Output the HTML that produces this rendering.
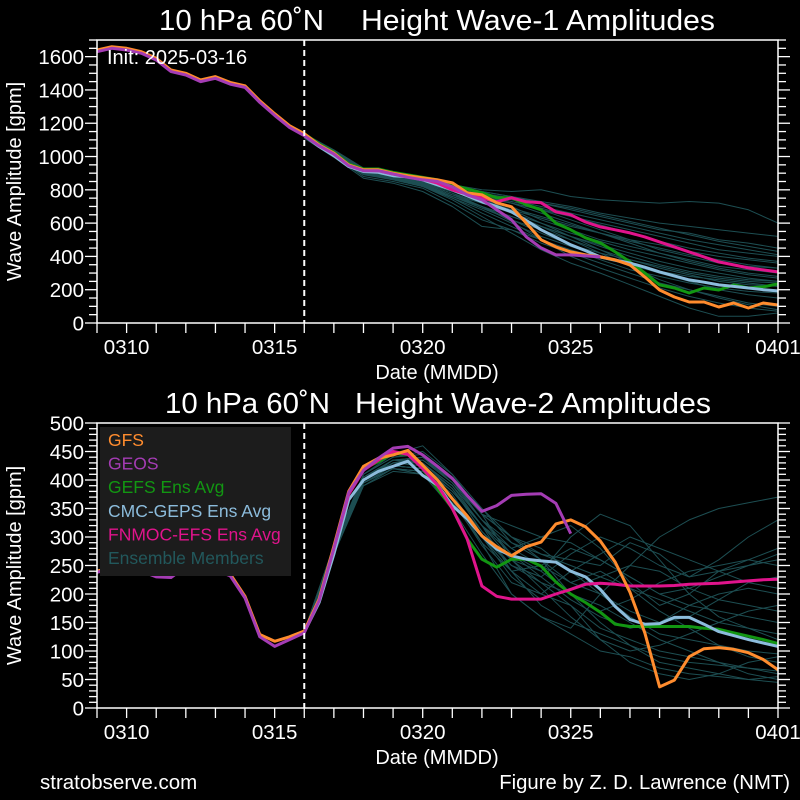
<!DOCTYPE html>
<html><head><meta charset="utf-8"><style>
html,body{margin:0;padding:0;background:#000;}
svg{display:block;font-family:"Liberation Sans",sans-serif;}
</style></head><body>
<svg id="fig" width="800" height="800" viewBox="0 0 800 800" xmlns="http://www.w3.org/2000/svg">
<rect width="800" height="800" fill="#000"/>
<g id="topPanel"></g>
<g id="botPanel"></g>
<text x="40" y="789" fill="#fff" font-size="20.5">stratobserve.com</text>
<text x="790" y="789" fill="#fff" font-size="20.3" text-anchor="end">Figure by Z. D. Lawrence (NMT)</text>
</svg>
<script>
// ---- data (day index 0 = 03/09, half-day steps for main series) ----
const xTickLabels = ["0310","0315","0320","0325","0401"];
const xTickDays = [1,6,11,16,23];
const initDay = 7;

const w1GFS = [1640,1660,1650,1630,1590,1520,1500,1460,1480,1445,1425,1335,1257,1185,1137,
 1070,1020,950,920,920,900,885,872,860,842,782,770,722,698,600,500,457,427,409,397,379,349,277,198,156,126,126,96,120,90,120,108];
const w1GEOS = [1630,1650,1640,1620,1580,1510,1490,1450,1470,1435,1415,1325,1247,1175,1125,
 1065,1015,945,915,915,895,875,860,850,818,770,740,680,620,517,451,409,409,403,397];
const w1GEFS = [1137,1075,1025,955,925,925,905,890,875,860,830,805,782,752,752,710,680,600,560,512,481,427,367,301,229,210,180,210,198,229,210,217,235];
const w1CMC = [1125,1060,1005,940,910,905,885,878,860,830,800,765,728,700,668,615,560,515,470,435,397,378,360,335,307,283,259,245,229,220,210,200,193];
const w1FNMOC = [1130,1065,1015,948,918,915,895,880,865,840,800,775,752,728,752,728,722,668,650,607,577,560,541,517,487,457,427,397,367,349,331,319,307];
const w1Members = [
[1137,1040,930,890,860,830,800,790,800,760,740,730,720,730,720,680,600],
[1130,1030,920,880,850,820,790,760,730,700,660,630,600,580,560,540,520],
[1125,1020,910,870,840,790,750,720,680,640,600,560,520,480,440,420,400],
[1120,1010,900,870,830,770,720,680,630,580,540,500,470,430,400,380,360],
[1135,1035,925,885,855,810,760,700,620,560,500,460,420,380,340,320,300],
[1110,1000,890,860,820,750,680,600,520,460,400,350,300,260,230,210,190],
[1120,1015,905,875,830,760,700,620,540,470,420,380,330,290,250,230,220],
[1130,1025,915,880,845,800,740,680,600,520,440,360,300,250,200,170,150],
[1115,1005,880,850,810,720,620,560,480,420,360,300,240,200,160,120,100],
[1125,1020,910,870,835,780,700,610,500,400,330,270,210,160,120,90,70],
[1120,1010,900,865,820,740,640,540,440,360,300,230,160,90,40,40,60],
[1130,1030,920,880,840,800,760,720,680,620,560,500,440,400,360,340,330],
[1125,1020,910,875,840,790,730,660,580,500,420,340,260,200,150,110,80],
[1135,1040,930,890,860,820,780,740,700,660,620,580,540,500,470,440,410],
[1110,995,870,840,790,700,580,560,500,440,380,320,280,240,210,190,180],
[1125,1015,905,870,830,770,700,640,580,520,470,420,370,330,300,270,250],
[1130,1025,915,880,845,810,770,720,660,600,540,480,420,370,330,300,280],
[1120,1005,895,865,825,760,690,620,560,500,440,380,340,300,270,250,240],
[1135,1035,925,885,855,820,780,750,720,680,640,600,560,540,500,480,450],
[1115,1010,900,865,825,750,660,580,500,440,390,350,310,280,260,240,220],
[1130,1030,925,885,850,815,770,730,690,640,590,540,490,450,420,390,370],
[1120,1015,905,870,835,780,720,660,600,540,490,440,400,360,320,290,270],
[1125,1020,912,875,840,795,745,690,640,590,540,490,450,410,380,350,330],
[1135,1035,925,890,860,825,790,760,720,690,650,610,570,530,490,460,430],
[1115,1005,895,860,820,760,700,640,580,520,460,400,350,310,280,260,250]];

const w2GFS = [240,247,253,243,233,231,251,254,244,235,196,129,117,125,135,
 191,284,380,424,438,444,452,426,400,367,337,302,283,267,283,291,323,330,318,293,256,203,132,37,49,90,104,106,103,97,85,67];
const w2GEOS = [238,245,250,240,230,229,248,252,242,232,193,125,108,120,132,
 188,280,378,417,438,456,459,444,424,403,373,345,355,373,375,376,359,306];
const w2GEFS = [135,190,282,378,420,432,447,445,420,385,350,297,261,247,261,261,249,221,200,185,168,147,143,143,143,143,143,140,138,132,126,120,113];
const w2CMC = [133,185,270,365,400,415,424,433,408,391,355,332,302,279,267,261,258,256,240,230,208,178,155,147,148,159,159,147,134,127,120,114,108];
const w2FNMOC = [135,190,280,375,417,435,450,445,420,391,350,297,214,196,191,191,191,200,208,217,219,217,214,214,214,215,217,218,219,221,223,225,226];
const w2Members = [
[135,280,400,430,440,400,340,300,270,260,250,290,270,230,260,300,330],
[135,270,395,425,420,370,310,260,240,200,180,150,120,100,80,70,60],
[130,275,400,430,425,380,320,280,300,320,280,220,180,200,240,260,280],
[135,280,410,440,450,410,350,290,260,220,240,210,170,140,110,90,80],
[130,270,395,420,415,360,290,240,200,180,140,120,100,90,80,60,50],
[135,280,405,435,430,390,330,280,250,220,200,170,150,160,190,220,230],
[135,285,410,445,460,410,340,260,220,180,120,80,60,50,60,80,90],
[130,270,390,415,410,350,270,200,160,140,200,250,300,330,350,360,370],
[135,280,400,430,435,400,330,290,270,250,230,210,190,170,150,140,130],
[135,275,395,425,420,380,320,270,240,300,340,320,260,200,160,140,120],
[135,280,405,435,440,400,350,300,260,200,150,110,80,70,60,50,45],
[130,270,395,420,410,360,300,250,230,270,300,280,250,230,240,250,260],
[135,280,400,430,430,390,320,260,210,160,120,100,110,130,150,170,180],
[135,285,410,440,445,400,340,300,280,240,200,160,130,120,110,100,95],
[130,275,400,425,420,370,300,240,180,150,130,110,90,80,75,70,65],
[135,280,405,435,435,395,340,320,300,290,260,230,200,210,230,250,270],
[135,275,400,430,425,385,310,250,220,200,170,190,220,240,250,260,250],
[130,270,390,420,415,370,290,200,160,130,100,90,70,60,55,50,55],
[135,280,405,430,430,385,320,240,250,280,260,230,200,180,170,160,150],
[130,275,395,425,420,375,300,230,190,210,230,250,240,210,190,180,170],
[135,280,400,435,440,395,330,270,230,190,160,140,150,180,200,210,200],
[130,270,395,420,415,365,285,220,200,240,270,300,280,260,240,220,210]];

const legendLabels = ["GFS","GEOS","GEFS Ens Avg","CMC-GEPS Ens Avg","FNMOC-EFS Ens Avg","Ensemble Members"];
const C = {gfs:"#ff8c2e",geos:"#a43cb4",gefs:"#129612",cmc:"#8cbcdc",fnmoc:"#e0148c",mem:"#1d4e52"};

const NS="http://www.w3.org/2000/svg";
const X0=97,X1=778,NDAYS=23;
const sx=d=>X0+d*(X1-X0)/NDAYS;
function mk(tag,attrs,parent){const e=document.createElementNS(NS,tag);for(const k in attrs)e.setAttribute(k,attrs[k]);parent.appendChild(e);return e;}

function panel(g,cfg){
  const sy=v=>cfg.y1-v*(cfg.y1-cfg.y0)/cfg.vmax;
  const clip=mk("clipPath",{id:cfg.id+"clip"},g);
  mk("rect",{x:X0,y:cfg.y0,width:X1-X0,height:cfg.y1-cfg.y0},clip);
  const plot=mk("g",{"clip-path":"url(#"+cfg.id+"clip)"},g);
  
  
  function line(vals,start,step,color,w,name){
    const pts=vals.map((v,i)=>sx(start+i*step).toFixed(1)+","+sy(v).toFixed(1)).join(" ");
    const p=mk("polyline",{points:pts,fill:"none",stroke:color,"stroke-width":w,"stroke-linejoin":"round"},plot);
    
    
  }
  cfg.members.forEach((m,i)=>line(m,initDay,1,C.mem,1,"ensemble-member-"+(i+1)));
  line(cfg.gefs,initDay,0.5,C.gefs,3,"gefs-ens-avg-line");
  line(cfg.cmc,initDay,0.5,C.cmc,3,"cmc-geps-ens-avg-line");
  line(cfg.fnmoc,initDay,0.5,C.fnmoc,3,"fnmoc-efs-ens-avg-line");
  line(cfg.gfs,0,0.5,C.gfs,3,"gfs-line");
  line(cfg.geos,0,0.5,C.geos,3,"geos-line");
  const il=mk("line",{x1:sx(initDay),x2:sx(initDay),y1:cfg.y0,y2:cfg.y1,stroke:"#fff","stroke-width":2,"stroke-dasharray":"6,4"},g);
  
  
  const fr=mk("rect",{x:X0,y:cfg.y0,width:X1-X0,height:cfg.y1-cfg.y0,fill:"none",stroke:"#fff","stroke-width":1.5},g);
  
  
  for(let v=0;v<=cfg.vmax+0.01;v+=cfg.minor){
    const y=sy(v),maj=Math.abs(v/cfg.major-Math.round(v/cfg.major))<1e-6;
    const L=maj?12:8;
    mk("line",{x1:X0-L,x2:X0,y1:y,y2:y,stroke:"#fff","stroke-width":1.3},g);
    mk("line",{x1:X1,x2:X1+L,y1:y,y2:y,stroke:"#fff","stroke-width":1.3},g);
    if(maj&&v<=cfg.labelMax){
      const t=mk("text",{x:X0-13,y:y+7.5,fill:"#fff","font-size":20.5,"text-anchor":"end"},g);
      t.textContent=String(v);
      
      
    }
  }
  for(let d=0;d<=NDAYS;d++){
    mk("line",{x1:sx(d),x2:sx(d),y1:cfg.y1,y2:cfg.y1+10,stroke:"#fff","stroke-width":1.3},g);
  }
  xTickDays.forEach((d,i)=>{
    const t=mk("text",{x:sx(d),y:cfg.y1+31,fill:"#fff","font-size":20.5,"text-anchor":"middle"},g);
    t.textContent=xTickLabels[i];
    
    
  });
  const xt=mk("text",{x:437,y:cfg.y1+56,fill:"#fff","font-size":20,"text-anchor":"middle"},g);
  xt.textContent="Date (MMDD)";
  
  
  const ym=(cfg.y0+cfg.y1)/2;
  const yt=mk("text",{x:21,y:ym,fill:"#fff","font-size":20,"text-anchor":"middle",transform:"rotate(-90 21 "+ym+")"},g);
  yt.textContent="Wave Amplitude [gpm]";
  
  
  const t1=mk("text",{x:cfg.t1x,y:cfg.y0-10,fill:"#fff","font-size":28.5,textLength:cfg.t1w,lengthAdjust:"spacingAndGlyphs"},g);
  t1.textContent="10 hPa 60\u02daN";
  
  
  const t2=mk("text",{x:cfg.t2x,y:cfg.y0-10,fill:"#fff","font-size":28.5,textLength:cfg.t2w,lengthAdjust:"spacingAndGlyphs"},g);
  t2.textContent=cfg.title;
  
  
}

const topG=document.getElementById("topPanel");
const botG=document.getElementById("botPanel");
panel(topG,{id:"t",y0:40,y1:323,vmax:1700,major:200,minor:50,labelMax:1600,
  gfs:w1GFS,geos:w1GEOS,gefs:w1GEFS,cmc:w1CMC,fnmoc:w1FNMOC,members:w1Members,
  title:"Height Wave-1 Amplitudes",t1x:159,t1w:165,t2x:361,t2w:354});
panel(botG,{id:"b",y0:423,y1:708,vmax:500,major:50,minor:10,labelMax:500,
  gfs:w2GFS,geos:w2GEOS,gefs:w2GEFS,cmc:w2CMC,fnmoc:w2FNMOC,members:w2Members,
  title:"Height Wave-2 Amplitudes",t1x:165,t1w:165,t2x:355,t2w:356});

const it=mk("text",{x:107,y:64,fill:"#fff","font-size":20},topG);
it.textContent="Init: 2025-03-16";



const lg=mk("g",{},botG);


mk("rect",{x:100,y:427,width:191,height:149,fill:"#1c1c1c"},lg);
const legColors=[C.gfs,C.geos,C.gefs,C.cmc,C.fnmoc,"#22585c"];
legendLabels.forEach((s,i)=>{
  const t=mk("text",{x:108,y:446+i*23.6,fill:legColors[i],"font-size":17.5},lg);
  t.textContent=s;
  
  
});
</script>
</body></html>
